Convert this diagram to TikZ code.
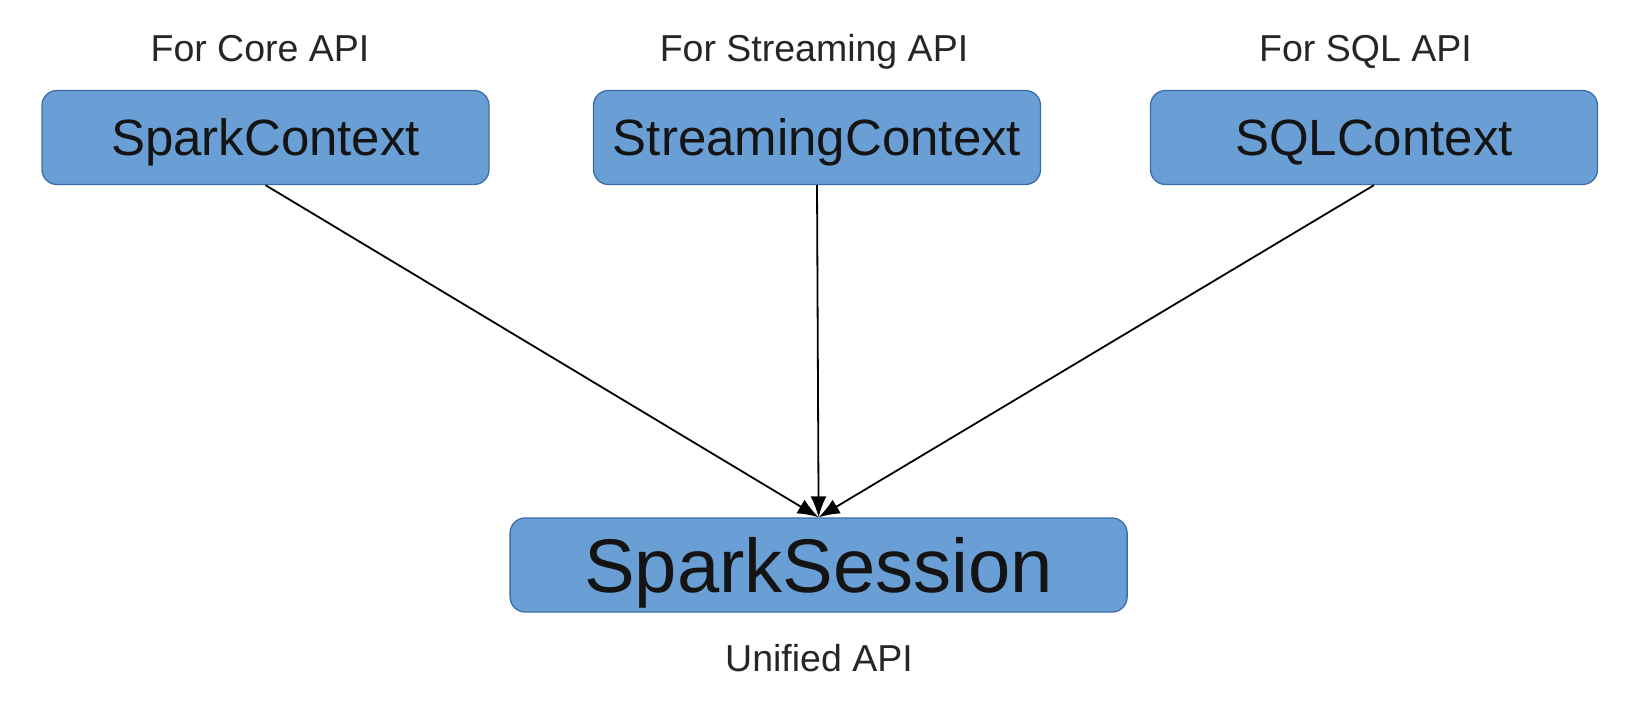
\documentclass[tikz,border=0pt]{standalone}
\usepackage{fontspec}
\setmainfont{Liberation Sans}
\usetikzlibrary{arrows.meta}
\definecolor{boxfill}{HTML}{6A9FD6}
\definecolor{boxline}{HTML}{3C6DA8}
\tikzset{
  ctxbox/.style={draw=boxline, line width=1.3pt, fill=boxfill, rounded corners=15pt,
    minimum width=447pt, minimum height=94pt, inner sep=0pt, text=black!92,
    text depth=0pt, font=\fontsize{51}{60}\selectfont},
  bigbox/.style={ctxbox, minimum width=617pt, font=\fontsize{76}{88}\selectfont},
  lbl/.style={inner sep=0pt, text=black!85, text depth=0pt, font=\fontsize{37.5}{44}\selectfont},
  conn/.style={line width=1.8pt, -{Latex[length=21pt,width=16pt]}}
}
\begin{document}
\begin{tikzpicture}[x=1pt,y=-1pt]
\useasboundingbox[fill=white] (0,0) rectangle (1632,702);
\node[ctxbox] (sc) at (265.5,137.5) {SparkContext};
\node[ctxbox] (stc) at (817,137.5) {StreamingContext};
\node[ctxbox] (sql) at (1374,137.5) {SQLContext};
\node[bigbox] (ss) at (818.6,565) {SparkSession};
\node[lbl] (l1) at (260,48) {For Core API};
\node[lbl] (l2) at (814,48) {For Streaming API};
\node[lbl] (l3) at (1365.5,48) {For SQL API};
\node[lbl] (l4) at (819,658) {Unified API};
\draw[conn] (sc.south) -- (ss.north);
\draw[conn] (stc.south) -- (ss.north);
\draw[conn] (sql.south) -- (ss.north);
\end{tikzpicture}
\end{document}
